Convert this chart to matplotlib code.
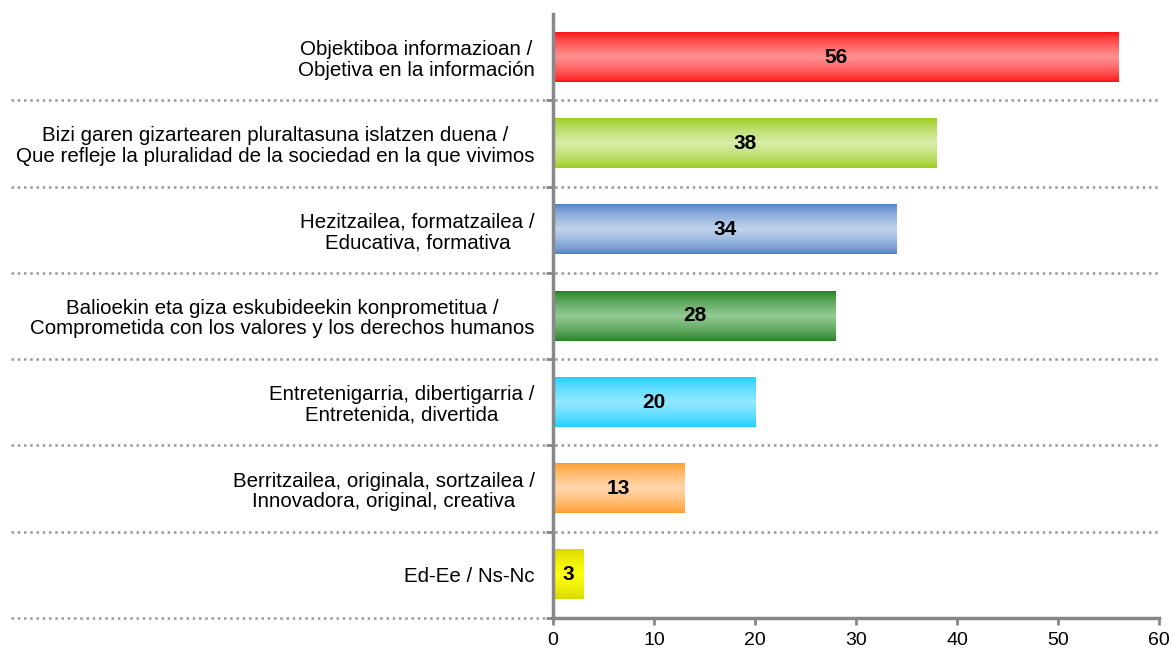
import numpy as np
import matplotlib.pyplot as plt
from matplotlib.colors import LinearSegmentedColormap

plt.rcParams['font.family'] = ['Liberation Sans', 'DejaVu Sans']

# ── Data ──────────────────────────────────────────────────────────────────────
labels = [
    "Objektiboa informazioan /\nObjetiva en la información",
    "Bizi garen gizartearen pluraltasuna islatzen duena /\nQue refleje la pluralidad de la sociedad en la que vivimos",
    "Hezitzailea, formatzailea /\nEducativa, formativa",
    "Balioekin eta giza eskubideekin konprometitua /\nComprometida con los valores y los derechos humanos",
    "Entretenigarria, dibertigarria /\nEntretenida, divertida",
    "Berritzailea, originala, sortzailea /\nInnovadora, original, creativa",
    "Ed-Ee / Ns-Nc",
]
values = [56, 38, 34, 28, 20, 13, 3]

# (edge colour, centre colour) for the gradient fill of each bar
edge_colors = ['#ff0f0f', '#99cc1a', '#4f81c8', '#1f7f1f', '#19cdff', '#ff9a28', '#d6d600']
mid_colors = ['#ff9090', '#d8eca8', '#c0d2ec', '#92c892', '#92e8ff', '#ffd6aa', '#ffff10']

# ── Figure ────────────────────────────────────────────────────────────────────
fig = plt.figure(figsize=(11.72, 6.53), dpi=100)
ax = fig.add_axes([0.4718, 0.0536, 0.989 - 0.4718, 0.9786 - 0.0536])

n = len(values)
ypos = np.arange(n)
bar_h = 0.57

ramp = np.linspace(0, 1, 50) ** 0.7
grad = np.concatenate([ramp, ramp[::-1]])[:, None]
for y, v, ec, mc in zip(ypos, values, edge_colors, mid_colors):
    cmap = LinearSegmentedColormap.from_list('g', [ec, mc])
    ax.imshow(grad, cmap=cmap, aspect='auto', interpolation='bilinear',
              extent=(0, v, y + bar_h / 2, y - bar_h / 2), zorder=2)
    ax.text(v / 2, y, str(v), ha='center', va='center',
            fontsize=15, fontweight='bold', zorder=3)

ax.set_xlim(0, 60)
ax.set_ylim(n - 0.5, -0.5)

# dotted separators running into the label area
for b in np.arange(0.5, n, 1.0):
    ax.axhline(b, xmin=-0.894, xmax=1.0, color='#999999', linestyle=(0, (1.0, 1.5)),
               linewidth=1.8, clip_on=False, zorder=1)

ax.set_yticks(ypos)
ax.set_yticklabels(labels, fontsize=14.8, multialignment='center', linespacing=1.1)
ax.tick_params(axis='y', length=0, pad=13)
ax.set_yticks(np.arange(0.5, n, 1.0), minor=True)
ax.tick_params(axis='y', which='minor', length=5, width=2, color='#888888', direction='out')

ax.set_xticks(np.arange(0, 61, 10))
ax.tick_params(axis='x', length=5, width=2, color='#888888', labelsize=14, pad=5)

for s in ['top', 'right']:
    ax.spines[s].set_visible(False)
for s in ['left', 'bottom']:
    ax.spines[s].set_color('#888888')
    ax.spines[s].set_linewidth(2.5)

fig.savefig('out.png', dpi=100)
